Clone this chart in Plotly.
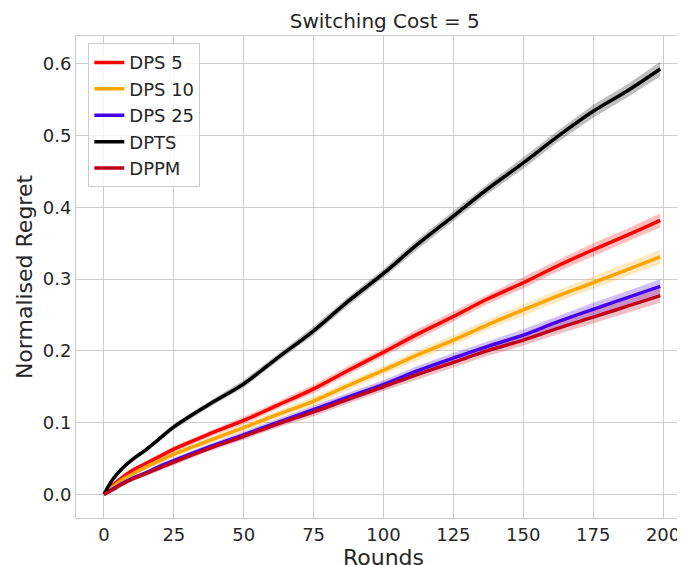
import plotly.graph_objects as go

rounds = [0, 3, 6, 10, 15, 20, 25, 37, 50, 62, 75, 87, 100, 112, 125, 137, 150, 162, 175, 187, 199]
dpts  = [0, 0.020, 0.034, 0.048, 0.062, 0.078, 0.094, 0.124, 0.154, 0.190, 0.228, 0.268, 0.308, 0.348, 0.388, 0.425, 0.462, 0.498, 0.534, 0.562, 0.593]
dps5  = [0, 0.012, 0.022, 0.033, 0.043, 0.053, 0.063, 0.083, 0.103, 0.124, 0.147, 0.172, 0.198, 0.223, 0.248, 0.272, 0.295, 0.318, 0.341, 0.361, 0.382]
dps10 = [0, 0.010, 0.019, 0.028, 0.038, 0.047, 0.056, 0.074, 0.093, 0.111, 0.130, 0.151, 0.173, 0.194, 0.215, 0.236, 0.257, 0.276, 0.295, 0.313, 0.331]
dps25 = [0, 0.007, 0.014, 0.022, 0.030, 0.039, 0.047, 0.065, 0.083, 0.100, 0.118, 0.135, 0.153, 0.172, 0.190, 0.206, 0.222, 0.240, 0.258, 0.274, 0.290]
dppm  = [0, 0.006, 0.013, 0.021, 0.029, 0.037, 0.045, 0.063, 0.081, 0.098, 0.115, 0.132, 0.150, 0.167, 0.184, 0.200, 0.215, 0.231, 0.247, 0.262, 0.277]
band  = [0, 0.001, 0.002, 0.003, 0.003, 0.004, 0.004, 0.004, 0.005, 0.005, 0.006, 0.006, 0.006, 0.007, 0.007, 0.007, 0.008, 0.008, 0.009, 0.009, 0.010]

series = [("DPS 5", dps5, "#ff0000", "rgba(255,0,0,0.25)"),
          ("DPS 10", dps10, "#ffa500", "rgba(255,165,0,0.25)"),
          ("DPS 25", dps25, "#4400ee", "rgba(68,0,238,0.25)"),
          ("DPTS", dpts, "#000000", "rgba(0,0,0,0.25)"),
          ("DPPM", dppm, "#c0001a", "rgba(192,0,26,0.25)")]

fig = go.Figure()
for name, ys, col, fill in series:
    up = [y + b for y, b in zip(ys, band)]
    lo = [y - b for y, b in zip(ys, band)]
    fig.add_trace(go.Scatter(x=rounds + rounds[::-1], y=up + lo[::-1], fill="toself",
                             fillcolor=fill, line=dict(width=0), hoverinfo="skip", showlegend=False))
for name, ys, col, fill in series:
    fig.add_trace(go.Scatter(x=rounds, y=ys, mode="lines", name=name,
                             line=dict(color=col, width=3.5, shape="spline")))

fig.update_layout(
    width=685, height=565, margin=dict(l=68, r=2, t=28, b=55),
    paper_bgcolor="white", plot_bgcolor="white",
    font=dict(family="DejaVu Sans", size=18, color="#262626"),
    title=dict(text="Switching Cost = 5", x=0.55, xanchor="center", y=0.99, yanchor="top", font=dict(size=20)),
    legend=dict(x=0.02, y=0.985, xanchor="left", yanchor="top", bordercolor="#cccccc", borderwidth=1,
                bgcolor="rgba(255,255,255,0.8)", font=dict(size=18), tracegroupgap=4),
    xaxis=dict(title=dict(text="Rounds", standoff=2), range=[-10, 210], tickvals=list(range(0, 201, 25)),
               automargin=False, showgrid=True, gridcolor="#cccccc", zeroline=False, showline=True,
               linecolor="#cccccc", mirror=True, ticks=""),
    yaxis=dict(title=dict(text="Normalised Regret", standoff=4), range=[-0.033, 0.639], tickvals=[0, 0.1, 0.2, 0.3, 0.4, 0.5, 0.6],
               tickformat=".1f", automargin=False, showgrid=True, gridcolor="#cccccc", zeroline=False, showline=True,
               linecolor="#cccccc", mirror=True, ticks=""),
)
fig.write_html("out.html")
